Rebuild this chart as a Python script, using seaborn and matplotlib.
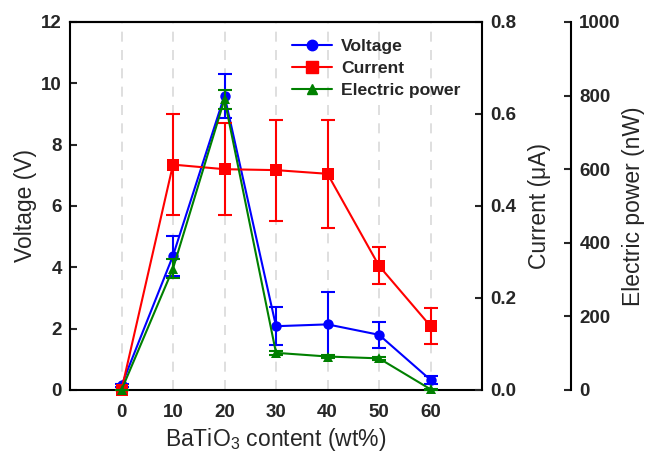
import numpy as np
import pandas as pd
import seaborn as sns
import matplotlib
matplotlib.use("Agg")
import matplotlib.pyplot as plt
from matplotlib.lines import Line2D

content = [0, 10, 20, 30, 40, 50, 60]
voltage = [0.15, 4.38, 9.6, 2.08, 2.14, 1.8, 0.33]
voltage_err = [0.05, 0.65, 0.72, 0.62, 1.06, 0.42, 0.13]
current = [0.0, 0.49, 0.48, 0.478, 0.47, 0.27, 0.139]
current_err = [0.0, 0.11, 0.1, 0.11, 0.118, 0.04, 0.04]
power = [0.0, 330, 790, 101, 91, 86, 2]
power_err = [0.0, 25, 26, 5, 5, 5, 2]

sns.set_style("white")
plt.rcParams['font.family'] = ['Liberation Sans', 'DejaVu Sans']
plt.rcParams['mathtext.fontset'] = 'custom'
plt.rcParams['mathtext.rm'] = 'Liberation Sans'

df = pd.DataFrame({"content": content, "voltage": voltage, "current": current, "power": power})

fig = plt.figure(figsize=(6.46, 4.55), dpi=100)
ax = fig.add_axes([70/646, 65/455, 412/646, 368/455])
ax2 = ax.twinx()
ax3 = ax.twinx()
ax3.spines['right'].set_position(('axes', 1.216))

blue, red, green = '#0000ff', '#ff0000', '#008000'

for a in (ax, ax2, ax3):
    a.patch.set_visible(False)

# grid
for x in content:
    ax.axvline(x, color='#d9d9d9', lw=1.2, ls=(0, (6, 5)), zorder=0)

sns.lineplot(data=df, x='content', y='voltage', ax=ax, color=blue, marker='o',
             markersize=7.5, markeredgewidth=0, lw=1.5, clip_on=False, zorder=5)
ax.errorbar(content, voltage, yerr=voltage_err, fmt='none', ecolor=blue, elinewidth=1.5,
            capsize=5, capthick=1.5, clip_on=False, zorder=5)

sns.lineplot(data=df, x='content', y='current', ax=ax2, color=red, marker='s',
             markersize=8, markeredgewidth=0, lw=1.5, clip_on=False, zorder=3)
ax2.errorbar(content, current, yerr=current_err, fmt='none', ecolor=red, elinewidth=1.5,
             capsize=5, capthick=1.5, clip_on=False, zorder=3)

sns.lineplot(data=df, x='content', y='power', ax=ax3, color=green, marker='^',
             markersize=7.5, markeredgewidth=0, lw=1.5, clip_on=False, zorder=6)
ax3.errorbar(content, power, yerr=power_err, fmt='none', ecolor=green, elinewidth=1.5,
             capsize=5, capthick=1.5, clip_on=False, zorder=6)

ax.set_xlim(-10, 70)
ax.set_ylim(0, 12)
ax2.set_ylim(0, 0.8)
ax3.set_ylim(0, 1000)

ax.set_xticks(content)
ax.set_yticks(np.arange(0, 13, 2))
ax2.set_yticks(np.arange(0, 0.81, 0.2))
ax2.set_yticklabels(['0.0', '0.2', '0.4', '0.6', '0.8'])
ax3.set_yticks(np.arange(0, 1001, 200))

TF = 13.5
for a in (ax, ax2, ax3):
    for lab in a.get_yticklabels():
        lab.set_fontsize(TF); lab.set_fontweight('bold')
    a.tick_params(axis='y', direction='in', length=5, width=1.5, pad=6)
for lab in ax.get_xticklabels():
    lab.set_fontsize(TF); lab.set_fontweight('bold')
ax.tick_params(axis='x', length=0, pad=10)

for a in (ax, ax2, ax3):
    for s in a.spines.values():
        s.set_linewidth(1.5)
        s.set_color('black')
ax.spines['right'].set_visible(False)
ax3.spines['top'].set_visible(False)
ax3.spines['left'].set_visible(False)
ax3.spines['bottom'].set_visible(False)
ax2.spines['left'].set_visible(False)
ax2.spines['bottom'].set_visible(False)
ax2.spines['top'].set_visible(True)

LF = 16.5
ax.set_xlabel('BaTiO$_3$ content (wt%)', fontsize=LF, labelpad=4)
ax.set_ylabel('Voltage (V)', fontsize=LF, labelpad=3)
ax2.set_ylabel('Current (μA)', fontsize=LF, labelpad=8)
ax3.set_ylabel('Electric power (nW)', fontsize=LF, labelpad=1)

handles = [
    Line2D([], [], color=blue, marker='o', markersize=7.5, lw=1.5),
    Line2D([], [], color=red, marker='s', markersize=8, lw=1.5),
    Line2D([], [], color=green, marker='^', markersize=7.5, lw=1.5),
]
leg = ax3.legend(handles, ['Voltage', 'Current', 'Electric power'], loc='upper left',
                 bbox_to_anchor=(0.5, 0.998), frameon=False, handlelength=2.3,
                 handletextpad=0.5, labelspacing=0.4,
                 prop={'size': 12.6, 'weight': 'bold'})
for a in (ax, ax2):
    if a.get_legend():
        a.get_legend().remove()

fig.savefig('out.png', dpi=100)
